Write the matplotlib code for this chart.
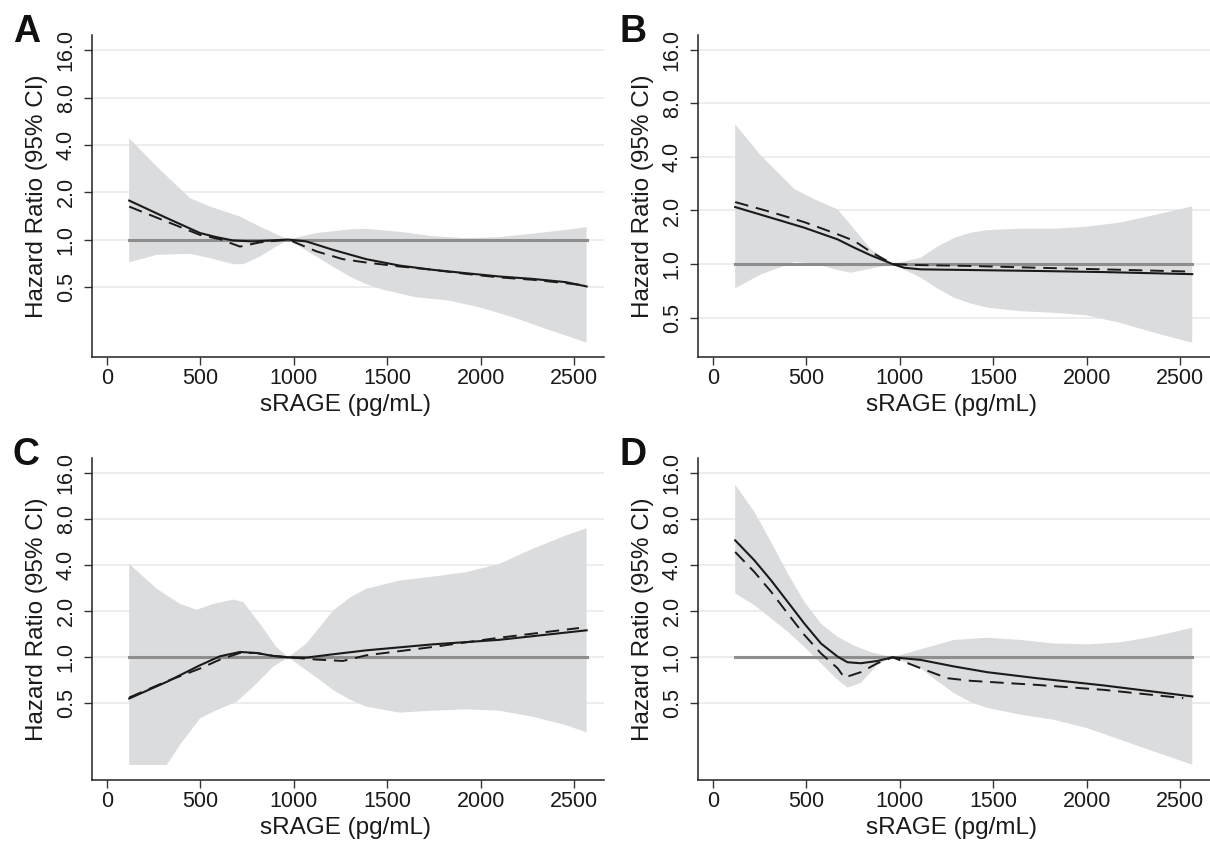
import numpy as np
import matplotlib
matplotlib.use("Agg")
import matplotlib.pyplot as plt

plt.rcParams['font.family'] = ['Liberation Sans', 'DejaVu Sans']

# %% data (hazard ratios)
yticks = [0.5, 1.0, 2.0, 4.0, 8.0, 16.0]
ytick_labels = ['0.5', '1.0', '2.0', '4.0', '8.0', '16.0']
xticks = [0, 500, 1000, 1500, 2000, 2500]

# panel A
a_up_x = [119, 267, 445, 552, 712, 836, 970, 1121, 1299, 1388, 1566, 1743, 1921, 2100, 2277, 2455, 2567]
a_up = [4.41, 2.91, 1.83, 1.62, 1.40, 1.18, 1.0, 1.10, 1.16, 1.17, 1.12, 1.05, 1.02, 1.035, 1.09, 1.15, 1.20]
a_lo_x = [119, 267, 445, 552, 676, 730, 818, 907, 970, 1121, 1210, 1299, 1388, 1477, 1654, 1832, 2010, 2188, 2366, 2567]
a_lo = [0.717, 0.799, 0.811, 0.761, 0.697, 0.697, 0.779, 0.902, 1.0, 0.779, 0.67, 0.582, 0.52, 0.48, 0.429, 0.409, 0.366, 0.316, 0.266, 0.221]
a_sol_x = [119, 320, 498, 587, 676, 783, 970, 1067, 1210, 1388, 1566, 1743, 1921, 2100, 2277, 2455, 2567]
a_sol = [1.77, 1.37, 1.10, 1.035, 0.986, 0.973, 1.0, 0.973, 0.86, 0.75, 0.683, 0.642, 0.611, 0.582, 0.562, 0.536, 0.503]
a_dash_x = [119, 320, 498, 605, 712, 818, 970, 1121, 1263, 1388, 1566, 1743, 1921, 2100, 2277, 2455, 2562]
a_dash = [1.62, 1.30, 1.07, 1.005, 0.902, 0.959, 1.0, 0.841, 0.75, 0.714, 0.674, 0.642, 0.605, 0.574, 0.555, 0.528, 0.51]

# panel B
b_up_x = [119, 258, 436, 543, 667, 756, 845, 961, 1112, 1200, 1290, 1379, 1468, 1646, 1824, 2001, 2179, 2357, 2565]
b_up = [6.1, 4.06, 2.64, 2.31, 2.03, 1.57, 1.21, 1.0, 1.085, 1.25, 1.40, 1.50, 1.55, 1.58, 1.58, 1.62, 1.71, 1.88, 2.11]
b_lo_x = [119, 258, 436, 543, 667, 738, 845, 961, 1112, 1200, 1290, 1379, 1468, 1646, 1824, 2001, 2179, 2357, 2565]
b_lo = [0.73, 0.875, 1.026, 1.008, 0.925, 0.894, 0.942, 1.0, 0.838, 0.73, 0.646, 0.60, 0.568, 0.543, 0.532, 0.514, 0.467, 0.412, 0.361]
b_sol_x = [119, 311, 489, 667, 756, 845, 961, 1023, 1112, 1379, 1734, 2090, 2565]
b_sol = [2.09, 1.82, 1.60, 1.376, 1.236, 1.119, 1.0, 0.953, 0.933, 0.925, 0.914, 0.901, 0.877]
b_dash_x = [119, 311, 489, 667, 756, 845, 961, 1112, 1379, 1734, 2090, 2565]
b_dash = [2.23, 1.96, 1.72, 1.47, 1.35, 1.17, 1.0, 0.986, 0.975, 0.953, 0.933, 0.906]

# panel C
c_up_x = [119, 267, 391, 480, 569, 676, 730, 818, 907, 970, 1067, 1140, 1210, 1300, 1388, 1566, 1743, 1921, 2100, 2277, 2455, 2567]
c_up = [4.07, 2.80, 2.23, 2.04, 2.23, 2.38, 2.29, 1.66, 1.165, 1.0, 1.227, 1.58, 2.02, 2.45, 2.80, 3.17, 3.36, 3.59, 4.07, 5.10, 6.23, 6.96]
c_lo_x = [119, 320, 391, 498, 587, 694, 783, 889, 970, 1067, 1140, 1210, 1300, 1388, 1566, 1743, 1921, 2100, 2277, 2455, 2567]
c_lo = [0.198, 0.198, 0.268, 0.399, 0.452, 0.512, 0.642, 0.865, 1.0, 0.823, 0.71, 0.611, 0.53, 0.476, 0.435, 0.448, 0.457, 0.448, 0.409, 0.361, 0.323]
c_sol_x = [119, 320, 498, 605, 712, 800, 889, 970, 1067, 1210, 1388, 1743, 2100, 2567]
c_sol = [0.538, 0.691, 0.887, 1.015, 1.083, 1.067, 1.02, 1.0, 0.995, 1.046, 1.11, 1.214, 1.30, 1.50]
c_dash_x = [119, 320, 498, 605, 712, 800, 889, 970, 1121, 1263, 1388, 1743, 2100, 2526]
c_dash = [0.546, 0.697, 0.844, 0.966, 1.067, 1.067, 1.021, 1.0, 0.966, 0.946, 1.03, 1.167, 1.342, 1.552]

# panel D
d_up_x = [119, 222, 311, 400, 489, 578, 667, 756, 845, 961, 1112, 1290, 1468, 1646, 1824, 2001, 2179, 2357, 2565]
d_up = [13.4, 8.88, 5.66, 3.53, 2.30, 1.66, 1.36, 1.19, 1.08, 1.0, 1.127, 1.297, 1.342, 1.297, 1.231, 1.214, 1.252, 1.363, 1.558]
d_lo_x = [119, 222, 311, 400, 489, 578, 667, 720, 791, 880, 961, 1112, 1200, 1290, 1379, 1468, 1646, 1824, 2001, 2179, 2357, 2565]
d_lo = [2.61, 2.19, 1.79, 1.47, 1.17, 0.914, 0.712, 0.634, 0.678, 0.891, 1.0, 0.848, 0.70, 0.583, 0.51, 0.467, 0.422, 0.391, 0.345, 0.290, 0.243, 0.199]
d_sol_x = [119, 222, 311, 400, 489, 578, 667, 720, 791, 880, 961, 1112, 1290, 1468, 1734, 2090, 2565]
d_sol = [5.80, 4.29, 3.18, 2.30, 1.66, 1.23, 1.01, 0.928, 0.914, 0.946, 1.0, 0.961, 0.871, 0.799, 0.730, 0.655, 0.555]
d_dash_x = [119, 222, 311, 400, 489, 578, 667, 703, 791, 880, 961, 1112, 1254, 1379, 1734, 2090, 2517]
d_dash = [4.87, 3.60, 2.68, 1.93, 1.40, 1.06, 0.848, 0.737, 0.799, 0.914, 1.0, 0.848, 0.730, 0.702, 0.660, 0.613, 0.541]

panels = [
    ('A', (92, 35), (0.179, 20.0), a_up_x, a_up, a_lo_x, a_lo, a_sol_x, a_sol, a_dash_x, a_dash),
    ('B', (698, 35), (0.30, 19.4), b_up_x, b_up, b_lo_x, b_lo, b_sol_x, b_sol, b_dash_x, b_dash),
    ('C', (92, 458), (0.158, 20.0), c_up_x, c_up, c_lo_x, c_lo, c_sol_x, c_sol, c_dash_x, c_dash),
    ('D', (698, 458), (0.158, 20.0), d_up_x, d_up, d_lo_x, d_lo, d_sol_x, d_sol, d_dash_x, d_dash),
]

W, H = 1210, 842
fig = plt.figure(figsize=(W / 100, H / 100), dpi=100)

ax_w, ax_h = 512, 322

for letter, (lx, ty), ylim, ux, uy, lox, loy, sx, sy, dx, dy in panels:
    ax = fig.add_axes([lx / W, 1 - (ty + ax_h) / H, ax_w / W, ax_h / H])
    ax.set_yscale('log')
    ax.set_xlim(-80, 2660)
    ax.set_ylim(*ylim)

    # CI band
    ax.fill(np.r_[ux, lox[::-1]], np.r_[uy, loy[::-1]], color='#dbdcde', lw=0, zorder=1)
    # reference line at HR = 1
    ax.plot([ux[0], ux[-1]], [1, 1], color='#8e8e8e', lw=2.2, zorder=2)
    ax.plot(sx, sy, color='#1a1a1a', lw=1.5, zorder=3)
    dl, = ax.plot(dx, dy, color='#1a1a1a', lw=1.4, zorder=3)
    dl.set_dashes((7, 4))

    ax.set_yticks(yticks)
    ax.set_yticklabels(ytick_labels)
    ax.yaxis.set_minor_locator(matplotlib.ticker.NullLocator())
    ax.set_xticks(xticks)
    ax.yaxis.grid(True, color='#ececec', lw=1.3)
    ax.set_axisbelow(True)

    for s in ['top', 'right']:
        ax.spines[s].set_visible(False)
    for s in ['left', 'bottom']:
        ax.spines[s].set_color('#222222')
        ax.spines[s].set_linewidth(1.1)

    ax.tick_params(axis='both', direction='out', length=6, width=1.0, color='#333333',
                   labelsize=15.5, labelcolor='#1a1a1a')
    ax.tick_params(axis='y', pad=5)
    ax.tick_params(axis='x', pad=2)
    for lbl in ax.get_yticklabels():
        lbl.set_rotation(90)
        lbl.set_va('center')

    ax.set_ylabel('Hazard Ratio (95% CI)', fontsize=17.5, color='#1a1a1a')
    ax.yaxis.label.set_va('center')
    ax.yaxis.set_label_coords(-0.107, 0.5)
    ax.set_xlabel('sRAGE (pg/mL)', fontsize=17.5, color='#1a1a1a')
    ax.xaxis.label.set_va('center')
    ax.xaxis.set_label_coords(0.495, -0.148)

    fig.text((lx - 79) / W, 1 - (ty + 7) / H, letter, fontsize=27, fontweight='bold',
             ha='left', va='baseline', color='#111111')

fig.savefig('out.png', dpi=100)
